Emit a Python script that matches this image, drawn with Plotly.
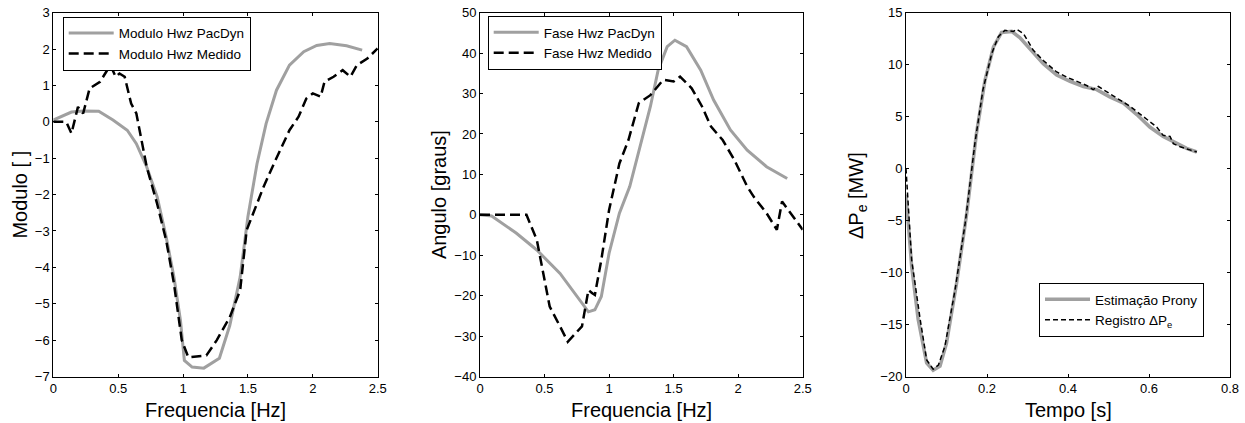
import plotly.graph_objects as go

# ---- Panel 1: Modulo ----
f_mod_pac = [0, 0.14, 0.23, 0.35, 0.46, 0.57, 0.64, 0.72, 0.80, 0.87, 0.93, 0.98, 1.01, 1.07, 1.16, 1.28, 1.36, 1.44, 1.50, 1.57, 1.64, 1.72, 1.82, 1.93, 2.03, 2.13, 2.26, 2.38]
mod_pac = [0.05, 0.27, 0.30, 0.29, 0.05, -0.23, -0.60, -1.24, -2.06, -3.17, -4.27, -5.46, -6.56, -6.74, -6.77, -6.50, -5.60, -4.27, -2.60, -1.15, -0.05, 0.87, 1.56, 1.93, 2.10, 2.15, 2.09, 1.97]
f_mod_med = [0, 0.10, 0.14, 0.19, 0.23, 0.28, 0.36, 0.44, 0.48, 0.51, 0.55, 0.60, 0.64, 0.72, 0.80, 0.87, 0.93, 0.99, 1.04, 1.18, 1.26, 1.36, 1.44, 1.49, 1.54, 1.62, 1.70, 1.76, 1.82, 1.89, 1.95, 2.00, 2.06, 2.09, 2.16, 2.23, 2.29, 2.34, 2.42, 2.50]
mod_med = [0, 0, -0.32, 0.41, 0.23, 0.92, 1.10, 1.56, 1.24, 1.33, 1.24, 0.50, 0.23, -1.24, -2.25, -3.26, -4.45, -6.00, -6.47, -6.42, -6.00, -5.37, -4.63, -2.98, -2.52, -1.79, -1.15, -0.69, -0.23, 0.14, 0.64, 0.78, 0.69, 1.10, 1.24, 1.42, 1.24, 1.56, 1.74, 2.02]

# ---- Panel 2: Fase ----
f_fase_pac = [0, 0.09, 0.28, 0.44, 0.62, 0.77, 0.84, 0.89, 0.94, 1.00, 1.08, 1.16, 1.24, 1.32, 1.38, 1.45, 1.51, 1.60, 1.71, 1.81, 1.94, 2.07, 2.22, 2.38]
fase_pac = [0, -0.3, -4.5, -8.7, -14.5, -21.0, -24.0, -23.5, -20.2, -9.5, 0.4, 7.0, 16.9, 26.8, 35.8, 41.6, 43.2, 41.6, 35.8, 28.4, 21.0, 16.0, 11.9, 9.0]
f_fase_med = [0, 0.36, 0.44, 0.48, 0.54, 0.62, 0.68, 0.79, 0.84, 0.87, 0.89, 0.94, 1.00, 1.08, 1.15, 1.23, 1.32, 1.42, 1.50, 1.55, 1.64, 1.72, 1.79, 1.88, 1.97, 2.07, 2.12, 2.22, 2.30, 2.34, 2.38, 2.50]
fase_med = [0, 0, -6.2, -12.8, -22.7, -27.6, -31.4, -27.6, -18.6, -19.4, -19.8, -11.1, 1.2, 12.7, 18.5, 27.6, 29.6, 33.4, 33.0, 34.2, 31.3, 26.8, 21.8, 18.5, 13.6, 7.0, 4.5, 0.4, -3.7, 3.3, 1.6, -3.7]

# ---- Panel 3: Delta Pe ----
t_prony = [0, 0.014, 0.030, 0.051, 0.067, 0.084, 0.100, 0.125, 0.150, 0.174, 0.195, 0.216, 0.236, 0.261, 0.281, 0.306, 0.339, 0.372, 0.405, 0.438, 0.471, 0.503, 0.537, 0.570, 0.602, 0.635, 0.668, 0.693, 0.718]
pe_prony = [-2.5, -9.4, -14.5, -18.7, -19.4, -19.0, -16.8, -11.0, -4.3, 3.4, 8.5, 11.7, 13.1, 13.2, 12.6, 11.5, 10.1, 9.0, 8.4, 7.9, 7.6, 6.9, 6.3, 5.2, 4.0, 3.1, 2.4, 1.95, 1.6]
t_reg = [0, 0.014, 0.035, 0.051, 0.067, 0.080, 0.096, 0.121, 0.146, 0.170, 0.190, 0.212, 0.228, 0.244, 0.265, 0.273, 0.290, 0.314, 0.339, 0.372, 0.397, 0.421, 0.446, 0.462, 0.475, 0.487, 0.520, 0.553, 0.586, 0.619, 0.635, 0.652, 0.660, 0.677, 0.701, 0.718]
pe_reg = [0, -8.8, -14.5, -18.4, -19.3, -18.9, -17.1, -11.7, -5.3, 2.4, 7.6, 11.1, 12.7, 13.3, 13.2, 13.4, 13.0, 11.4, 10.4, 9.3, 8.8, 8.4, 8.0, 7.6, 7.9, 7.6, 6.8, 6.0, 5.0, 4.0, 3.2, 3.1, 2.4, 2.1, 1.8, 1.6]

GRAY = "#a0a0a0"
W, H = 1245, 423
FONT = "Liberation Sans, Arial, sans-serif"

fig = go.Figure()
fig.add_trace(go.Scatter(x=f_mod_pac, y=mod_pac, mode="lines", name="Modulo Hwz PacDyn",
                         line=dict(color=GRAY, width=3), xaxis="x", yaxis="y", legend="legend"))
fig.add_trace(go.Scatter(x=f_mod_med, y=mod_med, mode="lines", name="Modulo Hwz Medido",
                         line=dict(color="black", width=2.5, dash="10px,5px"), xaxis="x", yaxis="y", legend="legend"))
fig.add_trace(go.Scatter(x=f_fase_pac, y=fase_pac, mode="lines", name="Fase Hwz PacDyn",
                         line=dict(color=GRAY, width=3), xaxis="x2", yaxis="y2", legend="legend2"))
fig.add_trace(go.Scatter(x=f_fase_med, y=fase_med, mode="lines", name="Fase Hwz Medido",
                         line=dict(color="black", width=2.5, dash="10px,5px"), xaxis="x2", yaxis="y2", legend="legend2"))
fig.add_trace(go.Scatter(x=t_prony, y=pe_prony, mode="lines", name="Estimação Prony",
                         line=dict(color=GRAY, width=3.5), xaxis="x3", yaxis="y3", legend="legend3"))
fig.add_trace(go.Scatter(x=t_reg, y=pe_reg, mode="lines", name="Registro ΔP<sub>e</sub>",
                         line=dict(color="black", width=1.5, dash="5px,3px"), xaxis="x3", yaxis="y3", legend="legend3"))

def px_x(p):
    return p / W

def px_y(p):
    return 1 - p / H

ydom = [px_y(376.5), px_y(12.7)]
common = dict(showline=True, linecolor="black", linewidth=1, mirror="ticks", ticks="inside",
              ticklen=3, tickcolor="black", showgrid=False, zeroline=False, automargin=False,
              tickfont=dict(family=FONT, size=13, color="black"))

fig.update_layout(
    width=W, height=H, margin=dict(l=0, r=0, t=0, b=0, pad=0, autoexpand=False),
    autosize=False,
    paper_bgcolor="white", plot_bgcolor="white",
    font=dict(family=FONT, color="black"),
    xaxis=dict(domain=[px_x(53.3), px_x(377.7)], range=[0, 2.5], dtick=0.5, anchor="y", **common),
    yaxis=dict(domain=ydom, range=[-7, 3], dtick=1, anchor="x", **common),
    xaxis2=dict(domain=[px_x(480), px_x(802.7)], range=[0, 2.5], dtick=0.5, anchor="y2", **common),
    yaxis2=dict(domain=ydom, range=[-40, 50], dtick=10, anchor="x2", **common),
    xaxis3=dict(domain=[px_x(906), px_x(1230)], range=[0, 0.8], dtick=0.2, anchor="y3", **common),
    yaxis3=dict(domain=ydom, range=[-20, 15], dtick=5, anchor="x3", **common),
)

leg_common = dict(bgcolor="white", bordercolor="black", borderwidth=1,
                  font=dict(family=FONT, size=13.5, color="black"),
                  xanchor="left", yanchor="top", tracegroupgap=0, itemwidth=45)
fig.update_layout(
    legend=dict(x=px_x(62.7), y=px_y(16.7), **leg_common),
    legend2=dict(x=px_x(487.7), y=px_y(16), **leg_common),
    legend3=dict(x=px_x(1039), y=px_y(283), **leg_common),
)

ann = []
def title(text, x, y, angle=0):
    ann.append(dict(text=text, x=px_x(x), y=px_y(y), xref="paper", yref="paper",
                    showarrow=False, textangle=angle, xanchor="center", yanchor="middle",
                    font=dict(family=FONT, size=20, color="black")))

title("Frequencia [Hz]", 215.5, 410)
title("Frequencia [Hz]", 641.3, 410)
title("Tempo [s]", 1068, 410)
title("Modulo [ ]", 20, 194.6, -90)
title("Angulo [graus]", 438.5, 194.6, -90)
title("ΔP<sub>e</sub> [MW]", 857, 196, -90)
fig.update_layout(annotations=ann)

fig.write_html("out.html")
